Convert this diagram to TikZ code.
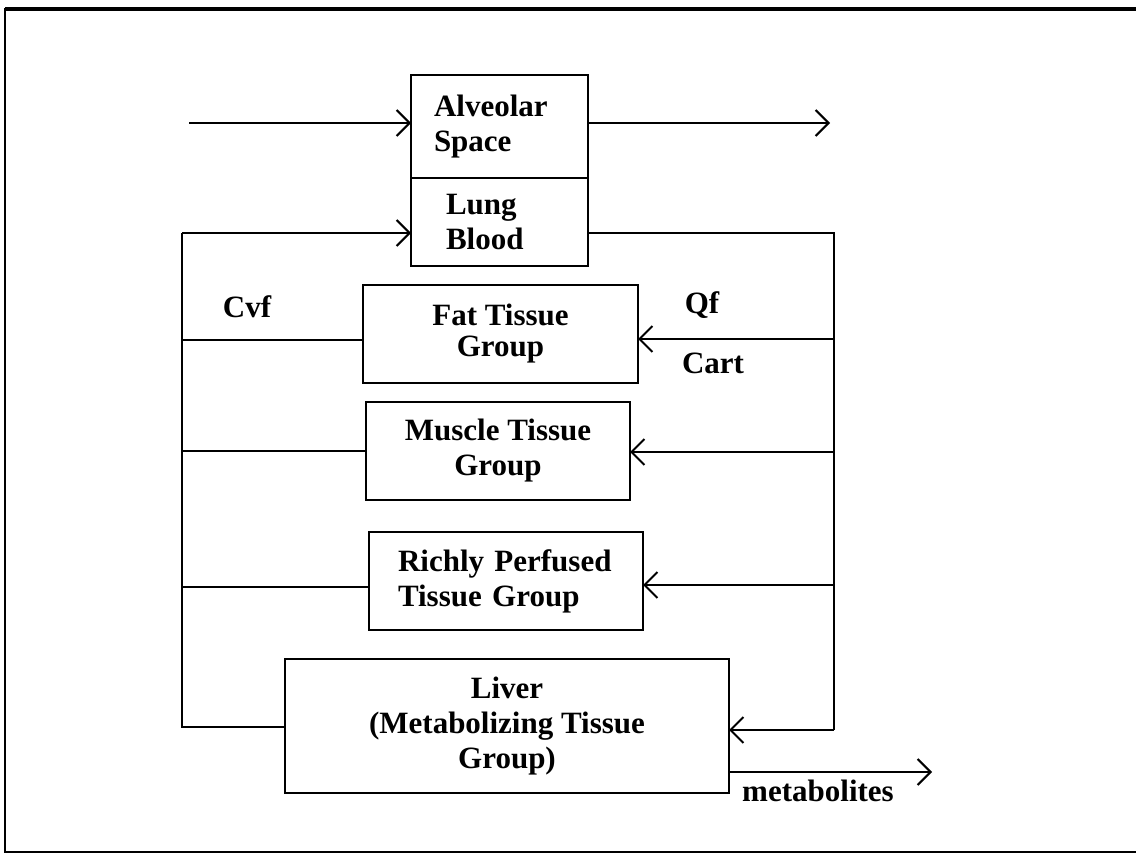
\documentclass[tikz,border=0pt]{standalone}
\usepackage{fontspec}
\setmainfont{Liberation Serif}
\usetikzlibrary{arrows.meta}
\usetikzlibrary{positioning}

\begin{document}
\begin{tikzpicture}[x=1pt, y=-1pt, line width=2pt,
	>={Straight Barb[length=13pt, width=26pt]},
	font=\fontsize{31}{35}\selectfont\bfseries,
	comp/.style={draw, line width=2.5pt, outer sep=0pt, inner sep=0pt,
				anchor=north west, align=center},
	lbl/.style={inner sep=0pt},
]
\useasboundingbox (0,0) rectangle (1136,856);
\draw [line width=4pt] (5,9) -- (1136,9);
\draw [line width=2.5pt] (5,8) -- (5,852) -- (1136,852);
%
\node [comp, minimum width=177pt, minimum height=103pt, inner xsep=23pt,
	text width=131pt, align=left] (alv) at (411,75) {Alveolar\\Space};
\node [comp, minimum width=177pt, minimum height=88pt, inner xsep=35pt,
	text width=107pt, align=left, anchor=north] (lung) [below=0pt of alv] {Lung\\Blood};
\node [comp, minimum width=275pt, minimum height=98pt] (fat) at (363,285) {Fat Tissue\\[-4pt]Group};
\node [comp, minimum width=264pt, minimum height=98pt] (mus) at (366,402) {Muscle Tissue\\Group};
\node [comp, minimum width=274pt, minimum height=98pt, inner xsep=29pt,
	text width=216pt, align=left] (rich) at (369,532) {Richly Perfused\\Tissue Group};
\node [comp, minimum width=444pt, minimum height=134pt] (liver) at (285,659)
	{Liver\\(Metabolizing Tissue\\Group)};
%
\node [lbl] (cvf)  at (247,307) {Cvf};
\node [lbl] (qf)   at (702,305) {Qf};
\node [lbl] (cart) at (713,363) {Cart};
\node [lbl] (metlbl) at (818,791) {metabolites};
%
\coordinate (airin)  at (189,123);
\coordinate (airout) at (830,123);
\coordinate (ven) at (182,233);
\coordinate (art) at (834,233);
\coordinate (met) at (932,772);
%
\draw [->] (airin) -- (airin -| alv.west);
\draw [->] (airin -| alv.east) -- (airout);
\draw [->] (ven) -- (ven -| lung.west);
\draw (ven -| lung.east) -- (art) -- ([yshift=-4pt]liver.east -| art);
\draw (ven) -- ([yshift=-1pt]liver.west -| ven) -- ([yshift=-1pt]liver.west);
\foreach \b/\dy in {fat/-5, mus/-1, rich/-4, liver/-4} {
	\draw [->] ([yshift=\dy pt]\b.east -| art) -- ([yshift=\dy pt]\b.east);
}
\foreach \b/\dy in {fat/-6, mus/0, rich/-6} {
	\draw ([yshift=\dy pt]\b.west) -- ([yshift=\dy pt]\b.west -| ven);
}
\draw [->] (met -| liver.east) -- (met);
\end{tikzpicture}
\end{document}
